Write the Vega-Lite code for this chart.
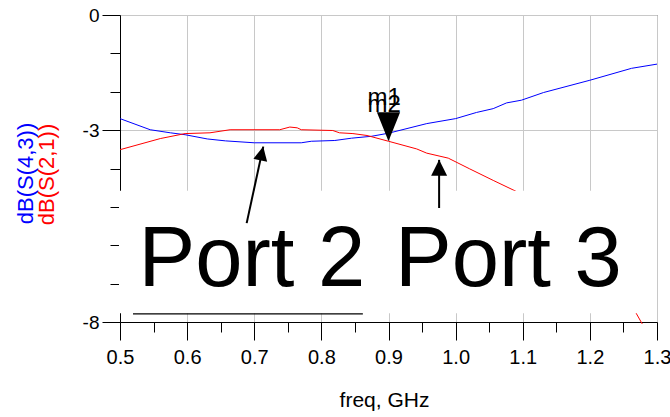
{
  "$schema": "https://vega.github.io/schema/vega-lite/v6.json",
  "width": 537,
  "height": 307,
  "autosize": {"type": "none"},
  "padding": {"left": 120, "top": 15, "right": 13, "bottom": 95},
  "background": "white",
  "config": {
    "font": "Liberation Sans",
    "view": {"stroke": "#444444", "strokeWidth": 1},
    "axis": {"domainColor": "black", "tickColor": "black", "labelColor": "black", "titleColor": "black", "titleFontWeight": "normal", "gridColor": "#c8c8c8", "gridWidth": 1, "labelFontSize": 20, "titleFontSize": 22, "labelFont": "Liberation Sans", "titleFont": "Liberation Sans"},
    "axisX": {"labelFontSize": 20, "titleFontSize": 21},
    "axisY": {"labelFontSize": 19, "titleFontSize": 22}
  },
  "datasets": {
    "s43": [
      {"x": 0.5, "y": -2.70}, {"x": 0.545, "y": -2.99}, {"x": 0.575, "y": -3.07}, {"x": 0.597, "y": -3.12},
      {"x": 0.63, "y": -3.23}, {"x": 0.657, "y": -3.28}, {"x": 0.70, "y": -3.33}, {"x": 0.77, "y": -3.33},
      {"x": 0.785, "y": -3.29}, {"x": 0.82, "y": -3.27}, {"x": 0.845, "y": -3.21}, {"x": 0.875, "y": -3.16},
      {"x": 0.90, "y": -3.08}, {"x": 0.957, "y": -2.83}, {"x": 1.0, "y": -2.70}, {"x": 1.031, "y": -2.54},
      {"x": 1.056, "y": -2.44}, {"x": 1.076, "y": -2.29}, {"x": 1.098, "y": -2.22}, {"x": 1.131, "y": -2.02},
      {"x": 1.2, "y": -1.70}, {"x": 1.262, "y": -1.39}, {"x": 1.3, "y": -1.28}
    ],
    "s21": [
      {"x": 0.5, "y": -3.51}, {"x": 0.56, "y": -3.22}, {"x": 0.597, "y": -3.09}, {"x": 0.634, "y": -3.07},
      {"x": 0.664, "y": -2.99}, {"x": 0.738, "y": -2.99}, {"x": 0.753, "y": -2.92}, {"x": 0.764, "y": -2.94},
      {"x": 0.77, "y": -2.99}, {"x": 0.817, "y": -3.01}, {"x": 0.827, "y": -3.07}, {"x": 0.847, "y": -3.09},
      {"x": 0.868, "y": -3.14}, {"x": 0.9, "y": -3.29}, {"x": 0.942, "y": -3.49}, {"x": 0.957, "y": -3.60},
      {"x": 0.989, "y": -3.73}, {"x": 1.021, "y": -4.01}, {"x": 1.056, "y": -4.31}, {"x": 1.093, "y": -4.62},
      {"x": 1.13, "y": -5.1}, {"x": 1.17, "y": -5.7}, {"x": 1.21, "y": -6.4}, {"x": 1.24, "y": -7.0},
      {"x": 1.265, "y": -7.65}, {"x": 1.278, "y": -8.05}
    ],
    "box": [{"x": 0.4985, "x2": 1.2985, "y": -4.582, "y2": -7.77}],
    "hline": [{"x": 0.5194, "x2": 0.8618, "y": -7.79}],
    "ports": [{"x": 0.5276, "y": -7.074, "t": "Port 2"}, {"x": 0.9097, "y": -7.074, "t": "Port 3"}],
    "arrows": [
      {"id": "p2", "x": 0.6887, "y": -5.423, "x2": 0.7134, "y2": -3.429},
      {"id": "p3", "x": 0.9754, "y": -5.03, "x2": 0.9754, "y2": -3.775}
    ],
    "markers": [{"x": 0.9, "y": -3.29}],
    "mlabels": [{"x": 0.8688, "y": -2.343, "t": "m1"}, {"x": 0.8688, "y": -2.525, "t": "m2"}]
  },
  "resolve": {"axis": {"y": "independent", "x": "independent"}},
  "layer": [
    {
      "data": {"name": "s43"},
      "mark": {"type": "line", "color": "#0000ff", "strokeWidth": 1},
      "encoding": {
        "x": {"field": "x", "type": "quantitative", "scale": {"domain": [0.5, 1.3], "nice": false, "zero": false},
          "axis": {
            "orient": "bottom",
            "values": [0.5, 0.55, 0.6, 0.65, 0.7, 0.75, 0.8, 0.85, 0.9, 0.95, 1.0, 1.05, 1.1, 1.15, 1.2, 1.25, 1.3],
            "tickSize": {"condition": {"test": "abs(datum.value*10-round(datum.value*10))<0.01", "value": 18}, "value": 10},
            "labelExpr": "abs(datum.value*10-round(datum.value*10))<0.01 ? format(datum.value, '.1f') : ''",
            "grid": true,
            "gridOpacity": {"condition": {"test": "abs(datum.value*10-round(datum.value*10))<0.01", "value": 1}, "value": 0},
            "labelFontSize": 20, "labelPadding": 7, "labelFlush": false, "labelOverlap": false,
            "title": "freq, GHz", "titleFontSize": 21, "titleX": 264, "titleY": 84, "titleAlign": "center", "titleBaseline": "alphabetic"
          }},
        "y": {"field": "y", "type": "quantitative", "scale": {"domain": [-8, 0], "nice": false, "zero": false},
          "axis": {
            "orient": "left",
            "values": [0, -1, -2, -3, -4, -5, -6, -7, -8],
            "tickSize": {"condition": {"test": "indexof([0,-3,-8], datum.value) >= 0", "value": 18}, "value": 10},
            "labelExpr": "datum.value == 0 ? '0' : datum.value == -3 ? '-3' : datum.value == -8 ? '-8' : ''",
            "grid": true,
            "gridOpacity": {"condition": {"test": "indexof([0,-3,-8], datum.value) >= 0", "value": 1}, "value": 0},
            "labelFontSize": 19, "labelPadding": 3, "labelOverlap": false, "labelFlush": false,
            "title": "dB(S(4,3))", "titleColor": "#0000ff", "titleFontSize": 22, "titleAngle": 270,
            "titleX": -88, "titleY": 158, "titleAlign": "center", "titleBaseline": "alphabetic"
          }}
      }
    },
    {
      "data": {"name": "s21"},
      "mark": {"type": "line", "color": "#ff0000", "strokeWidth": 1},
      "encoding": {
        "x": {"field": "x", "type": "quantitative", "scale": {"domain": [0.5, 1.3], "nice": false, "zero": false}, "axis": null},
        "y": {"field": "y", "type": "quantitative", "scale": {"domain": [-8, 0], "nice": false, "zero": false},
          "axis": {
            "orient": "left", "domain": false, "ticks": false, "labels": false, "grid": false,
            "title": "dB(S(2,1))", "titleColor": "#ff0000", "titleFontSize": 22, "titleAngle": 270,
            "titleX": -66.5, "titleY": 159, "titleAlign": "center", "titleBaseline": "alphabetic"
          }}
      }
    },
    {
      "data": {"name": "box"},
      "mark": {"type": "rect", "fill": "white", "strokeWidth": 0},
      "encoding": {
        "x": {"field": "x", "type": "quantitative", "scale": {"domain": [0.5, 1.3], "nice": false, "zero": false}, "axis": null},
        "x2": {"field": "x2"},
        "y": {"field": "y", "type": "quantitative", "scale": {"domain": [-8, 0], "nice": false, "zero": false}, "axis": null},
        "y2": {"field": "y2"}
      }
    },
    {
      "data": {"name": "hline"},
      "mark": {"type": "rule", "color": "black", "strokeWidth": 1.2},
      "encoding": {
        "x": {"field": "x", "type": "quantitative", "scale": {"domain": [0.5, 1.3], "nice": false, "zero": false}, "axis": null},
        "x2": {"field": "x2"},
        "y": {"field": "y", "type": "quantitative", "scale": {"domain": [-8, 0], "nice": false, "zero": false}, "axis": null}
      }
    },
    {
      "data": {"name": "ports"},
      "mark": {"type": "text", "align": "left", "baseline": "alphabetic", "fontSize": 85, "color": "black", "font": "Liberation Sans"},
      "encoding": {
        "x": {"field": "x", "type": "quantitative", "scale": {"domain": [0.5, 1.3], "nice": false, "zero": false}, "axis": null},
        "y": {"field": "y", "type": "quantitative", "scale": {"domain": [-8, 0], "nice": false, "zero": false}, "axis": null},
        "text": {"field": "t"}
      }
    },
    {
      "data": {"name": "arrows"},
      "mark": {"type": "rule", "color": "black", "strokeWidth": 2},
      "encoding": {
        "x": {"field": "x", "type": "quantitative", "scale": {"domain": [0.5, 1.3], "nice": false, "zero": false}, "axis": null},
        "x2": {"field": "x2"},
        "y": {"field": "y", "type": "quantitative", "scale": {"domain": [-8, 0], "nice": false, "zero": false}, "axis": null},
        "y2": {"field": "y2"}
      }
    },
    {
      "data": {"name": "arrows"},
      "transform": [{"filter": "datum.id == 'p2'"}],
      "mark": {"type": "point", "shape": "M0,0L0.5,1L-0.5,1Z", "filled": true, "fill": "black", "strokeWidth": 0, "size": 784, "angle": 12.2, "opacity": 1},
      "encoding": {
        "x": {"field": "x2", "type": "quantitative", "scale": {"domain": [0.5, 1.3], "nice": false, "zero": false}, "axis": null},
        "y": {"field": "y2", "type": "quantitative", "scale": {"domain": [-8, 0], "nice": false, "zero": false}, "axis": null}
      }
    },
    {
      "data": {"name": "arrows"},
      "transform": [{"filter": "datum.id == 'p3'"}],
      "mark": {"type": "point", "shape": "M0,0L0.5,1L-0.5,1Z", "filled": true, "fill": "black", "strokeWidth": 0, "size": 1024, "angle": 0, "opacity": 1},
      "encoding": {
        "x": {"field": "x2", "type": "quantitative", "scale": {"domain": [0.5, 1.3], "nice": false, "zero": false}, "axis": null},
        "y": {"field": "y2", "type": "quantitative", "scale": {"domain": [-8, 0], "nice": false, "zero": false}, "axis": null}
      }
    },
    {
      "data": {"name": "markers"},
      "mark": {"type": "point", "shape": "M0,0L-0.4,-1L0.4,-1Z", "filled": true, "fill": "black", "strokeWidth": 0, "size": 3364, "opacity": 1},
      "encoding": {
        "x": {"field": "x", "type": "quantitative", "scale": {"domain": [0.5, 1.3], "nice": false, "zero": false}, "axis": null},
        "y": {"field": "y", "type": "quantitative", "scale": {"domain": [-8, 0], "nice": false, "zero": false}, "axis": null}
      }
    },
    {
      "data": {"name": "mlabels"},
      "mark": {"type": "text", "align": "left", "baseline": "alphabetic", "fontSize": 24, "color": "black", "font": "Liberation Sans"},
      "encoding": {
        "x": {"field": "x", "type": "quantitative", "scale": {"domain": [0.5, 1.3], "nice": false, "zero": false}, "axis": null},
        "y": {"field": "y", "type": "quantitative", "scale": {"domain": [-8, 0], "nice": false, "zero": false}, "axis": null},
        "text": {"field": "t"}
      }
    }
  ]
}
